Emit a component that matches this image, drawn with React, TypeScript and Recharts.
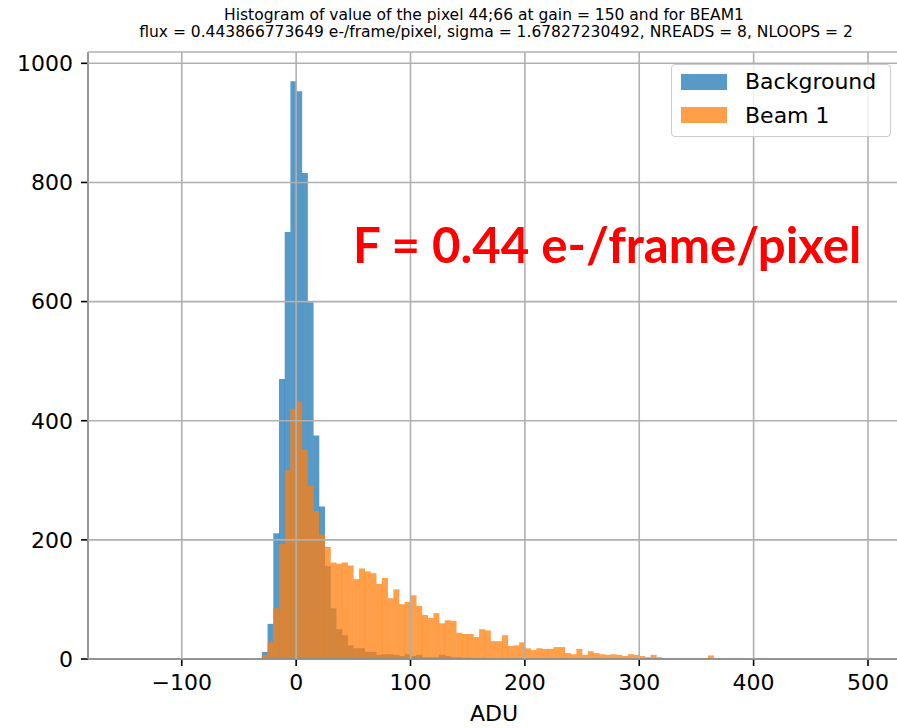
import { BarChart, Bar, XAxis, YAxis, CartesianGrid } from 'recharts'

// histogram bins: 5 ADU wide, first bin starts at -30
const BIN_START = -30
const BIN_WIDTH = 5

const background = [
  12, 59, 211, 470, 717, 970, 953, 816, 599, 375, 256, 156, 85, 50, 40, 23, 18, 18, 12, 12,
  7, 8, 8, 7, 5, 8, 5, 7, 3, 3, 3, 7, 5, 3, 3, 2, 2, 1, 2, 1, 1, 0, 1, 0, 1,
]

const beam1 = [
  7, 28, 85, 193, 317, 420, 432, 352, 291, 248, 209, 188, 162, 160, 162, 157, 134, 152, 147, 144,
  126, 136, 102, 117, 92, 96, 107, 89, 74, 69, 77, 60, 65, 64, 44, 42, 42, 37, 50, 48,
  30, 30, 40, 22, 23, 28, 18, 15, 18, 17, 17, 20, 20, 10, 8, 17, 7, 13, 10, 8,
  7, 8, 7, 5, 8, 7, 5, 3, 7, 3, 1, 1, 0, 1, 1, 0, 1, 1, 6, 1, 0, 0, 1, 1, 0, 0, 0, 1,
]

const xTicks = [-100, 0, 100, 200, 300, 400, 500]
const yTicks = [0, 200, 400, 600, 800, 1000]
const X_DOMAIN = [-182, 528]
const Y_DOMAIN = [0, 1019]

const binCount = Math.max(background.length, beam1.length)
const data = Array.from({ length: binCount }, (_, i) => ({
  adu: BIN_START + BIN_WIDTH * (i + 0.5),
  background: background[i] ?? 0,
  beam1: beam1[i] ?? 0,
}))

const font = 'DejaVu Sans, sans-serif'
const tickStyle = { fill: '#000', fontSize: 22, fontFamily: font }
const axisLine = { stroke: '#000', strokeWidth: 1.6 }
const minusSign = (v: number) => String(v).replace('-', '\u2212')

export default function App() {
  return (
    <div style={{ position: 'absolute', left: 0, top: 0, width: 897, height: 728, overflow: 'hidden', background: '#fff' }}>
      <div style={{ position: 'absolute', left: 0, top: 0, width: 897, textAlign: 'center', fontFamily: font, fontSize: 15.5, lineHeight: '18px', color: '#000' }}>
        <div style={{ position: 'absolute', left: 484 - 400, width: 800, top: 6 }}>
          Histogram of value of the pixel 44;66 at gain = 150 and for BEAM1
        </div>
        <div style={{ position: 'absolute', left: 496 - 420, width: 840, top: 23 }}>
          flux = 0.443866773649 e-/frame/pixel, sigma = 1.67827230492, NREADS = 8, NLOOPS = 2
        </div>
      </div>

      <BarChart
        width={910}
        height={728}
        data={data}
        margin={{ top: 52, right: 10, left: 0, bottom: 0 }}
        barCategoryGap={0}
        barGap={0}
      >
        <XAxis
          xAxisId="bg"
          dataKey="adu"
          type="number"
          domain={X_DOMAIN}
          ticks={xTicks}
          tickFormatter={minusSign}
          allowDataOverflow
          height={69}
          tickSize={7}
          tickMargin={8}
          axisLine={axisLine}
          tickLine={axisLine}
          tick={tickStyle}
          label={{ value: 'ADU', position: 'insideBottom', offset: 7, fill: '#000', fontSize: 22, fontFamily: font }}
        />
        <XAxis
          xAxisId="beam"
          dataKey="adu"
          type="number"
          domain={X_DOMAIN}
          allowDataOverflow
          orientation="top"
          height={0}
          tick={false}
          tickLine={false}
          axisLine={axisLine}
        />
        <YAxis
          type="number"
          domain={Y_DOMAIN}
          ticks={yTicks}
          allowDataOverflow
          width={88}
          tickSize={7}
          tickMargin={8}
          axisLine={axisLine}
          tickLine={axisLine}
          tick={tickStyle}
        />
        <Bar xAxisId="bg" dataKey="background" fill="#1f77b4" fillOpacity={0.75} isAnimationActive={false} />
        <Bar xAxisId="beam" dataKey="beam1" fill="#ff7f0e" fillOpacity={0.75} isAnimationActive={false} />
        <CartesianGrid xAxisId="bg" stroke="#b0b0b0" strokeWidth={1.6} zIndex={500} />
      </BarChart>

      <svg style={{ position: 'absolute', left: 0, top: 0 }} width={897} height={728} pointerEvents="none">
        <text x={353} y={263} fill="#ff0000" fontFamily="Lato, sans-serif" fontWeight={700} fontSize={49.2}>
          F = 0.44 e-/frame/pixel
        </text>
      </svg>

      <div
        style={{
          position: 'absolute',
          left: 671,
          top: 64,
          width: 218,
          height: 71,
          border: '1px solid #cccccc',
          borderRadius: 4,
          background: 'rgba(255,255,255,0.8)',
          fontFamily: font,
          fontSize: 22,
          color: '#000',
        }}
      >
        <div style={{ position: 'absolute', left: 9, top: 9, width: 46, height: 16, background: '#1f77b4', opacity: 0.75 }} />
        <div style={{ position: 'absolute', left: 73, top: 4, lineHeight: '26px' }}>Background</div>
        <div style={{ position: 'absolute', left: 9, top: 42, width: 46, height: 16, background: '#ff7f0e', opacity: 0.75 }} />
        <div style={{ position: 'absolute', left: 73, top: 38, lineHeight: '26px' }}>Beam 1</div>
      </div>
    </div>
  )
}
